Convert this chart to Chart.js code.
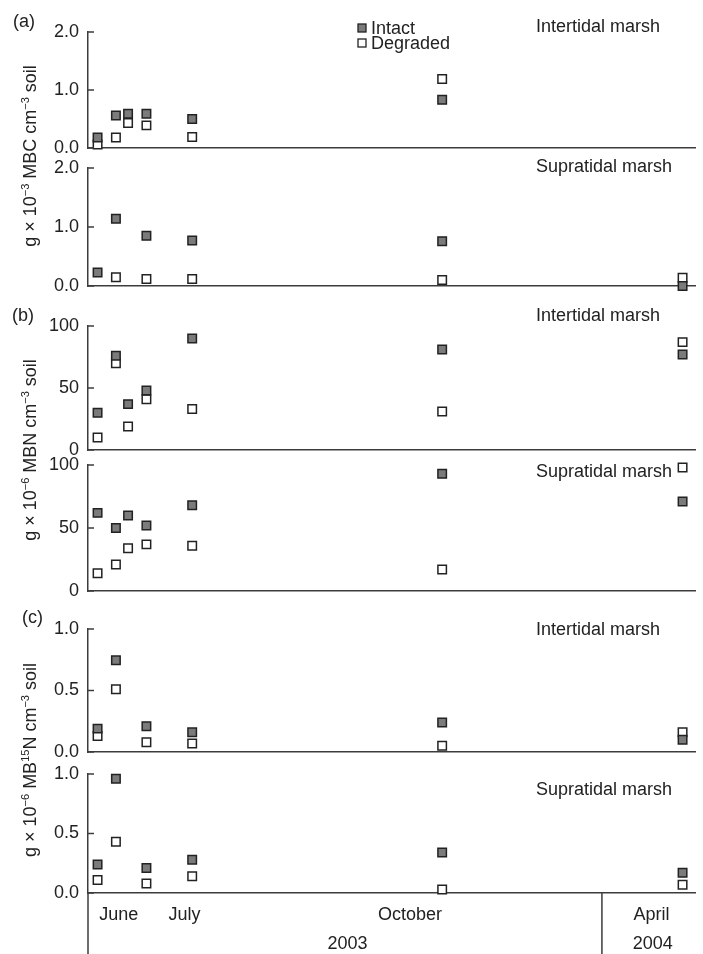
<!DOCTYPE html>
<html>
<head>
<meta charset="utf-8">
<script src="https://cdn.jsdelivr.net/npm/chart.js@4.4.0/dist/chart.umd.min.js"></script>
<style>
  html, body { margin: 0; padding: 0; background: #fff; }
  #wrap { position: relative; width: 703px; height: 954px; overflow: hidden; font-family: "Liberation Sans", Arial, sans-serif; color: #222; }
  #wrap canvas { position: absolute; left: 0; top: 0; }
  .ytitle { position: absolute; width: 300px; height: 24px; line-height: 24px; font-size: 18px; text-align: center; transform: rotate(-90deg); white-space: nowrap; }
  .ytitle sup { font-size: 11px; vertical-align: 7px; line-height: 0; }
</style>
</head>
<body>
<div id="wrap">
  <canvas id="p1" width="703" height="954"></canvas>
  <canvas id="p2" width="703" height="954"></canvas>
  <canvas id="p3" width="703" height="954"></canvas>
  <canvas id="p4" width="703" height="954"></canvas>
  <canvas id="p5" width="703" height="954"></canvas>
  <canvas id="p6" width="703" height="954"></canvas>
  <div class="ytitle" style="left:-120px; top:144px;">g × 10<sup>−3</sup> MBC cm<sup>−3</sup> soil</div>
  <div class="ytitle" style="left:-120px; top:438px;">g × 10<sup>−6</sup> MBN cm<sup>−3</sup> soil</div>
  <div class="ytitle" style="left:-120px; top:748px;">g × 10<sup>−6</sup> MB<sup>15</sup>N cm<sup>−3</sup> soil</div>
</div>
<script>
// sampling dates, days from 1 June 2003 (axis is broken before April 2004)
const sampleDays = [3.7, 10.8, 15.5, 22.6, 40.3, 137, 230];

// (a) microbial biomass C, g x 10^-3 per cm3 soil
const mbcInterIntact   = [0.18, 0.56, 0.59, 0.59, 0.50, 0.83, null];
const mbcInterDegraded = [0.06, 0.18, 0.43, 0.39, 0.19, 1.19, null];
const mbcSupraIntact   = [0.23, 1.14, null, 0.85, 0.77, 0.76, 0.00];
const mbcSupraDegraded = [null, 0.15, null, 0.12, 0.12, 0.10, 0.14];

// (b) microbial biomass N, g x 10^-6 per cm3 soil
const mbnInterIntact   = [30, 76, 37, 48, 90, 81, 77];
const mbnInterDegraded = [10, 70, 19, 41, 33, 31, 87];
const mbnSupraIntact   = [62, 50, 60, 52, 68, 93, 71];
const mbnSupraDegraded = [14, 21, 34, 37, 36, 17, 98];

// (c) microbial biomass 15N, g x 10^-6 per cm3 soil
const n15InterIntact   = [0.19, 0.745, null, 0.21, 0.16, 0.24, 0.10];
const n15InterDegraded = [0.13, 0.51, null, 0.08, 0.07, 0.05, 0.16];
const n15SupraIntact   = [0.24, 0.96, null, 0.21, 0.28, 0.34, 0.17];
const n15SupraDegraded = [0.11, 0.43, null, 0.08, 0.14, 0.03, 0.07];

// bottom axis labels
const monthLabels = ["June", "July", "October", "April"];
const monthDays = [11.9, 37.3, 124.6, 218];
const yearLabels = ["2003", "2004"];
const yearDays = [100.4, 218.5];
const breakDay = 198.8;

const seriesNames = ["Intact", "Degraded"];

const FONT = '"Liberation Sans", Arial, sans-serif';
const AXIS = "#3c3c3c";
const TEXT = "#222";
const INTACT_FILL = "#7b7b7b";
const EDGE = "#222";

const panels = [
  { id: "p1", vals: [mbcInterIntact, mbcInterDegraded], max: 2, step: 1, dec: 1, top: 32, bottom: 148, site: "Intertidal marsh", siteDy: 0, tag: "(a)", tagX: 13, tagY: 27, legend: true },
  { id: "p2", vals: [mbcSupraIntact, mbcSupraDegraded], max: 2, step: 1, dec: 1, top: 168, bottom: 286, site: "Supratidal marsh", siteDy: 4 },
  { id: "p3", vals: [mbnInterIntact, mbnInterDegraded], max: 100, step: 50, dec: 0, top: 326, bottom: 450, site: "Intertidal marsh", siteDy: -5, tag: "(b)", tagX: 12, tagY: 321 },
  { id: "p4", vals: [mbnSupraIntact, mbnSupraDegraded], max: 100, step: 50, dec: 0, top: 465, bottom: 591, site: "Supratidal marsh", siteDy: 12 },
  { id: "p5", vals: [n15InterIntact, n15InterDegraded], max: 1, step: 0.5, dec: 1, top: 629, bottom: 752, site: "Intertidal marsh", siteDy: 6, tag: "(c)", tagX: 22, tagY: 623 },
  { id: "p6", vals: [n15SupraIntact, n15SupraDegraded], max: 1, step: 0.5, dec: 1, top: 774, bottom: 893, site: "Supratidal marsh", siteDy: 21, last: true }
];

// ticks inside the axis, panel captions, legend and the date axis extras
const panelDecor = {
  id: "panelDecor",
  afterDraw(chart, args, opts) {
    const ctx = chart.ctx;
    const area = chart.chartArea;
    const ys = chart.scales.y;
    ctx.save();
    ctx.strokeStyle = AXIS;
    ctx.lineWidth = 1.5;
    ys.ticks.forEach(t => {
      const py = ys.getPixelForValue(t.value);
      ctx.beginPath();
      ctx.moveTo(area.left, py);
      ctx.lineTo(area.left + 6, py);
      ctx.stroke();
    });

    ctx.font = "18px " + FONT;
    ctx.fillStyle = TEXT;
    ctx.textBaseline = "alphabetic";
    ctx.textAlign = "left";
    ctx.fillText(opts.site, 536, area.top + opts.siteDy);
    if (opts.tag) ctx.fillText(opts.tag, opts.tagX, opts.tagY);

    if (opts.legend) {
      chart.data.datasets.forEach((ds, i) => {
        const cy = 28 + 15 * i;
        ctx.fillStyle = ds.backgroundColor;
        ctx.fillRect(358, cy - 4, 8, 8);
        ctx.lineWidth = 1.3;
        ctx.strokeStyle = ds.borderColor;
        ctx.strokeRect(358, cy - 4, 8, 8);
        ctx.fillStyle = TEXT;
        ctx.fillText(ds.label, 371, cy + 6);
      });
    }

    if (opts.last) {
      const xs = chart.scales.x;
      ctx.strokeStyle = AXIS;
      ctx.lineWidth = 1.5;
      [area.left, xs.getPixelForValue(breakDay)].forEach(px => {
        ctx.beginPath();
        ctx.moveTo(px, area.bottom);
        ctx.lineTo(px, chart.height);
        ctx.stroke();
      });
      ctx.textAlign = "center";
      ctx.fillStyle = TEXT;
      yearLabels.forEach((lab, i) => {
        ctx.fillText(lab, xs.getPixelForValue(yearDays[i]), area.bottom + 56);
      });
    }
    ctx.restore();
  }
};

panels.forEach(p => {
  const datasets = p.vals.map((vals, k) => ({
    label: seriesNames[k],
    data: sampleDays.map((d, i) => ({ x: d, y: vals[i] })).filter(pt => pt.y !== null),
    pointStyle: "rect",
    pointRadius: 6,
    pointHoverRadius: 6,
    backgroundColor: k === 0 ? INTACT_FILL : "#fff",
    borderColor: EDGE,
    borderWidth: 1.5,
    clip: false
  }));

  const xAxis = {
    type: "linear",
    min: 0,
    max: 235,
    grid: { display: false, drawTicks: false },
    border: { color: AXIS, width: 1.5 },
    ticks: { display: false }
  };
  if (p.last) {
    xAxis.ticks = {
      display: true,
      autoSkip: false,
      maxRotation: 0,
      padding: 11,
      color: TEXT,
      font: { size: 18, family: FONT },
      callback: (v, i) => monthLabels[i]
    };
    xAxis.afterBuildTicks = s => { s.ticks = monthDays.map(v => ({ value: v })); };
    xAxis.afterFit = s => { s.height = 61; };
  } else {
    xAxis.afterFit = s => { s.height = 0; };
  }

  new Chart(document.getElementById(p.id), {
    type: "scatter",
    data: { datasets },
    options: {
      responsive: false,
      animation: false,
      events: [],
      layout: { padding: { top: p.top, bottom: p.last ? 0 : 954 - p.bottom, left: 0, right: 3 } },
      scales: {
        x: xAxis,
        y: {
          min: 0,
          max: p.max,
          grid: { display: false, drawTicks: false },
          border: { color: AXIS, width: 1.5 },
          ticks: {
            stepSize: p.step,
            padding: 9,
            color: TEXT,
            font: { size: 18, family: FONT },
            callback: v => v.toFixed(p.dec)
          },
          afterFit: s => { s.width = 88; }
        }
      },
      plugins: {
        legend: { display: false },
        tooltip: { enabled: false },
        panelDecor: p
      }
    },
    plugins: [panelDecor]
  });
});
</script>
</body>
</html>
